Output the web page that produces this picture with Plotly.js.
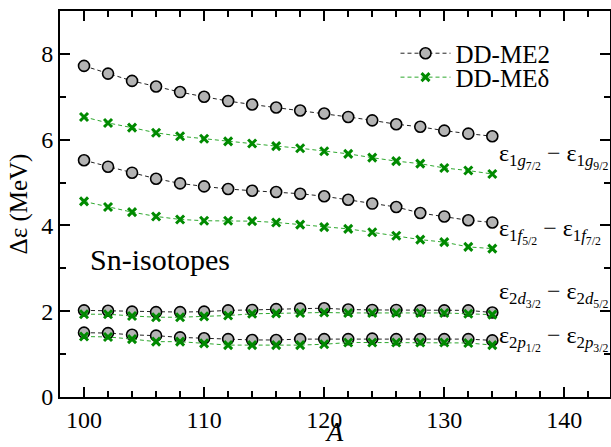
<!DOCTYPE html>
<html>
<head>
<meta charset="utf-8">
<script src="https://cdn.plot.ly/plotly-3.0.1.min.js"></script>
<style>html,body{margin:0;padding:0;background:#fff;}#chart{width:611px;height:447px;}
svg text, svg tspan, #chart text, #chart tspan, .xtick text, .ytick text, .legendtext, .xtitle, .ytitle { font-family: 'Liberation Serif', serif !important; }</style>
</head>
<body>
<div id="chart"></div>
<script>
// Mass numbers A
const massNumbers = [100,102,104,106,108,110,112,114,116,118,120,122,124,126,128,130,132,134];

// DD-ME2 splittings (MeV)
const me2_g = [7.72,7.54,7.37,7.24,7.11,7.00,6.90,6.82,6.75,6.68,6.61,6.53,6.45,6.36,6.30,6.21,6.14,6.08];
const me2_f = [5.52,5.37,5.23,5.09,4.98,4.91,4.85,4.81,4.78,4.74,4.68,4.60,4.51,4.43,4.29,4.21,4.12,4.07];
const me2_d = [2.02,2.01,1.99,1.98,1.98,1.99,2.02,2.03,2.05,2.06,2.07,2.04,2.03,2.03,2.02,2.02,2.02,1.97];
const me2_p = [1.50,1.49,1.45,1.43,1.39,1.37,1.35,1.33,1.33,1.35,1.35,1.35,1.36,1.35,1.35,1.35,1.35,1.32];

// DD-MEdelta splittings (MeV)
const med_g = [6.53,6.39,6.28,6.16,6.08,6.02,5.96,5.91,5.85,5.80,5.73,5.67,5.58,5.50,5.44,5.34,5.28,5.20];
const med_f = [4.56,4.43,4.31,4.21,4.14,4.11,4.11,4.10,4.07,4.02,3.96,3.92,3.84,3.76,3.67,3.61,3.50,3.46];
const med_d = [1.93,1.93,1.89,1.86,1.86,1.88,1.90,1.94,1.95,1.96,1.97,1.96,1.96,1.96,1.96,1.96,1.94,1.92];
const med_p = [1.41,1.40,1.35,1.29,1.29,1.25,1.21,1.21,1.21,1.21,1.23,1.27,1.27,1.27,1.27,1.27,1.26,1.21];

const seriesNames = ['DD-ME2','DD-MEδ'];
const stateLabels = [
  'ε<sub>1<i>g</i><sub>7/2</sub></sub> − ε<sub>1<i>g</i><sub>9/2</sub></sub>',
  'ε<sub>1<i>f</i><sub>5/2</sub></sub> − ε<sub>1<i>f</i><sub>7/2</sub></sub>',
  'ε<sub>2<i>d</i><sub>3/2</sub></sub> − ε<sub>2<i>d</i><sub>5/2</sub></sub>',
  'ε<sub>2<i>p</i><sub>1/2</sub></sub> − ε<sub>2<i>p</i><sub>3/2</sub></sub>'
];
const labelY = [5.6, 3.85, 2.39, 1.36];

const FONT = 'Liberation Serif';

const me2Style = {
  mode: 'lines+markers',
  line: {color: '#222', width: 1, dash: '4px,3px'},
  marker: {symbol: 'circle', size: 11, color: '#b4b4b4', line: {color: '#000', width: 1.6}}
};
const medStyle = {
  mode: 'lines+markers',
  line: {color: '#2ea82e', width: 1, dash: '4px,3px'},
  marker: {symbol: 'x-thin', size: 8, color: '#008a00', line: {color: '#008a00', width: 3}}
};

const traces = [];
[me2_g, me2_f, me2_d, me2_p].forEach((ys, i) => {
  traces.push(Object.assign({x: massNumbers, y: ys, type: 'scatter', name: seriesNames[0],
    showlegend: i === 0, legend: 'legend'}, JSON.parse(JSON.stringify(me2Style))));
});
[med_g, med_f, med_d, med_p].forEach((ys, i) => {
  traces.push(Object.assign({x: massNumbers, y: ys, type: 'scatter', name: seriesNames[1],
    showlegend: i === 0, legend: 'legend2'}, JSON.parse(JSON.stringify(medStyle))));
});

const annotations = stateLabels.map((t, i) => ({
  text: t, x: 134.4, y: labelY[i], xref: 'x', yref: 'y', xanchor: 'left', yanchor: 'middle',
  showarrow: false, font: {family: FONT, size: 24, color: '#000'}
}));
annotations.push({
  text: 'Sn-isotopes', x: 100.3, y: 3.2, xref: 'x', yref: 'y', xanchor: 'left', yanchor: 'middle',
  showarrow: false, font: {family: FONT, size: 30, color: '#000'}
});

const axisCommon = {
  showline: true, linecolor: '#000', linewidth: 2, mirror: 'allticks',
  ticks: 'inside', ticklen: 10, tickwidth: 2, tickcolor: '#000',
  showgrid: false, zeroline: false,
  tickfont: {family: FONT, size: 24, color: '#000'}
};

const legendCommon = {xanchor: 'left', yanchor: 'middle', bgcolor: 'rgba(0,0,0,0)',
  font: {family: FONT, size: 25, color: '#000'}, itemwidth: 50};

const layout = {
  width: 611, height: 447,
  margin: {l: 60, r: 1, t: 11, b: 50},
  paper_bgcolor: '#fff', plot_bgcolor: '#fff',
  font: {family: FONT, color: '#000'},
  showlegend: true,
  legend: Object.assign({x: 0.61, y: 0.89}, legendCommon),
  legend2: Object.assign({x: 0.61, y: 0.828}, legendCommon),
  xaxis: Object.assign({}, axisCommon, {
    range: [98, 143.8], dtick: 10, tick0: 100,
    minor: {dtick: 2, ticks: 'inside', ticklen: 6, tickwidth: 2, tickcolor: '#000'},
    title: {text: '<i>A</i>', font: {family: FONT, size: 27, color: '#000'}, standoff: 1}
  }),
  yaxis: Object.assign({}, axisCommon, {
    range: [0, 9], dtick: 2, tick0: 0,
    minor: {dtick: 1, ticks: 'inside', ticklen: 6, tickwidth: 2, tickcolor: '#000'},
    title: {text: 'Δε (MeV)', font: {family: FONT, size: 25, color: '#000'}, standoff: 6}
  }),
  annotations: annotations
};

Plotly.newPlot('chart', traces, layout, {displayModeBar: false});
</script>
</body>
</html>
